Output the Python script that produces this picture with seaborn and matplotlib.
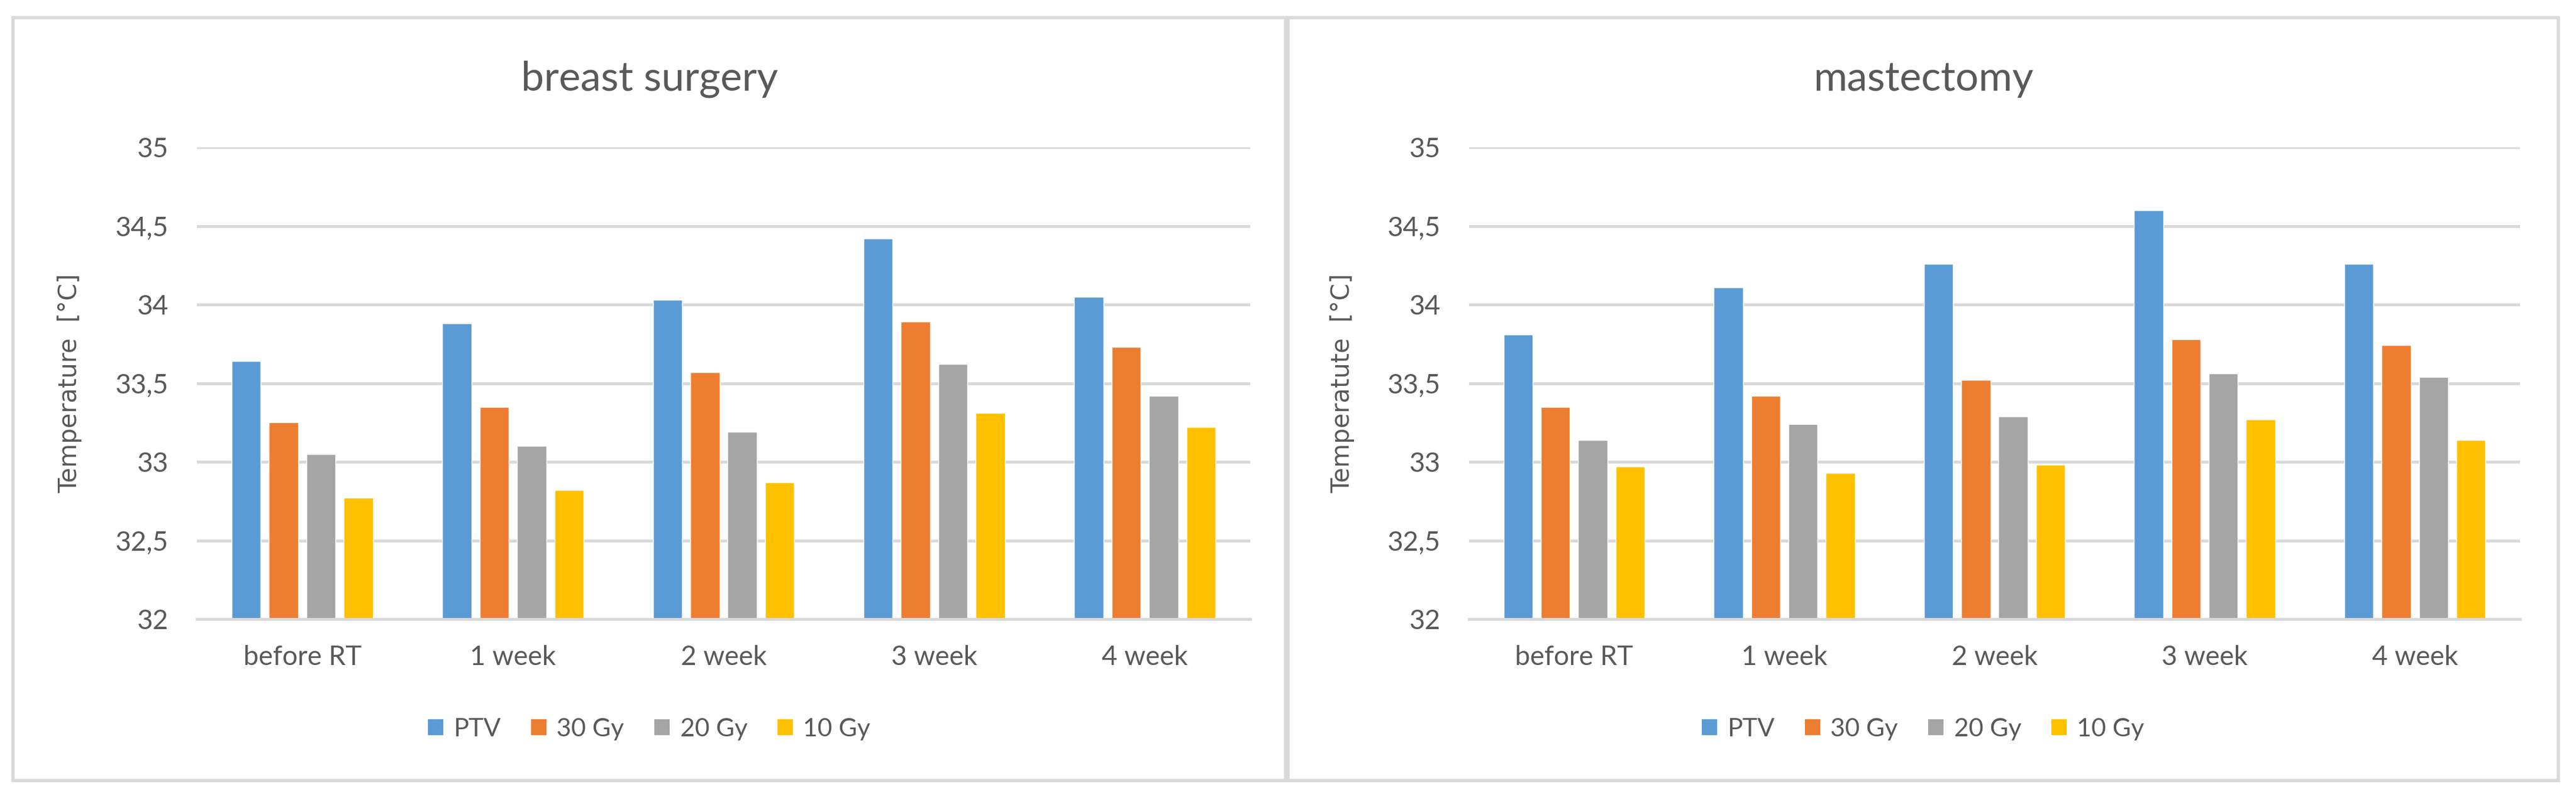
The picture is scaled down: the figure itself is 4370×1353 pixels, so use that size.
import matplotlib
matplotlib.use('Agg')
import numpy as np
import pandas as pd
import matplotlib.pyplot as plt
import seaborn as sns
from matplotlib.patches import Rectangle, Patch

# categories and series
weeks = ['before RT', '1 week', '2 week', '3 week', '4 week']
doses = ['PTV', '30 Gy', '20 Gy', '10 Gy']
colors = ['#5B9BD5', '#ED7D31', '#A5A5A5', '#FFC000']

# breast surgery
breast_ptv = [33.64, 33.88, 34.03, 34.42, 34.05]
breast_30 = [33.25, 33.35, 33.57, 33.89, 33.73]
breast_20 = [33.05, 33.10, 33.19, 33.62, 33.42]
breast_10 = [32.77, 32.82, 32.87, 33.31, 33.22]

# mastectomy
mast_ptv = [33.81, 34.11, 34.26, 34.60, 34.26]
mast_30 = [33.35, 33.42, 33.52, 33.78, 33.74]
mast_20 = [33.14, 33.24, 33.29, 33.56, 33.54]
mast_10 = [32.97, 32.93, 32.98, 33.27, 33.14]

yticks = [32, 32.5, 33, 33.5, 34, 34.5, 35]
ytick_labels = ['32', '32,5', '33', '33,5', '34', '34,5', '35']

titles = ['breast surgery', 'mastectomy']
ylabels = ['Temperature  [°C]', 'Temperatute  [°C]']

TXT = '#595959'
GRID = '#D9D9D9'


def long_frame(series):
    rows = []
    for dose, vals in zip(doses, series):
        for w, v in zip(weeks, vals):
            rows.append({'week': w, 'dose': dose, 'temp': v})
    return pd.DataFrame(rows)


sns.set_theme(style='white')
plt.rcParams['font.family'] = ['Lato', 'DejaVu Sans']

W, H = 4370, 1353
fig = plt.figure(figsize=(W / 100, H / 100), dpi=100)

data = [long_frame([breast_ptv, breast_30, breast_20, breast_10]),
        long_frame([mast_ptv, mast_30, mast_20, mast_10])]

# pixel layout (left, right) of each axes and its panel box
ax_px = [(334, 2121), (2492, 4275)]
panel_px = [(22, 2181), (2185, 4340)]
ax_bottom, ax_top = 1051, 250

for i in range(2):
    x0, x1 = ax_px[i]
    ax = fig.add_axes([x0 / W, 1 - ax_bottom / H, (x1 - x0) / W, (ax_bottom - ax_top) / H])
    sns.barplot(data=data[i], x='week', y='temp', hue='dose', order=weeks,
                hue_order=doses, palette=colors, saturation=1, width=0.71,
                gap=0.22, errorbar=None, legend=False, ax=ax, zorder=3)
    ax.set_ylim(32, 35)
    ax.set_yticks(yticks)
    ax.set_yticklabels(ytick_labels)
    ax.grid(axis='y', color=GRID, linewidth=3.5, zorder=0)
    ax.set_axisbelow(True)
    for s in ['left', 'right', 'top']:
        ax.spines[s].set_visible(False)
    ax.spines['bottom'].set_color(GRID)
    ax.spines['bottom'].set_linewidth(3.5)
    ax.spines['bottom'].set_zorder(4)
    ax.tick_params(axis='both', length=0, labelsize=33, labelcolor=TXT)
    ax.tick_params(axis='y', pad=35)
    ax.tick_params(axis='x', pad=32)
    ax.set_xlabel('')
    ax.set_ylabel(ylabels[i], fontsize=30, color=TXT, family=['DejaVu Sans'])
    ax.yaxis.set_label_coords(-0.109, 0.5)

    p0, p1 = panel_px[i]
    cx = (p0 + p1) / 2 / W
    fig.patches.append(Rectangle((p0 / W, 1 - 1325 / H), (p1 - p0) / W, 1295 / H,
                                 transform=fig.transFigure, fill=False,
                                 edgecolor=GRID, linewidth=4))
    fig.text(cx, 1 - 134 / H, titles[i], ha='center', va='center',
             fontsize=50, color=TXT)
    handles = [Patch(facecolor=c, edgecolor='none', label=d) for c, d in zip(colors, doses)]
    fig.legend(handles=handles, loc='center', bbox_to_anchor=(cx, 1 - 1238 / H),
               ncol=4, frameon=False, fontsize=31, labelcolor=TXT,
               handlelength=0.6, handleheight=0.6, handletextpad=0.4,
               columnspacing=1.2)

fig.savefig('out.png', dpi=100, facecolor='white')
